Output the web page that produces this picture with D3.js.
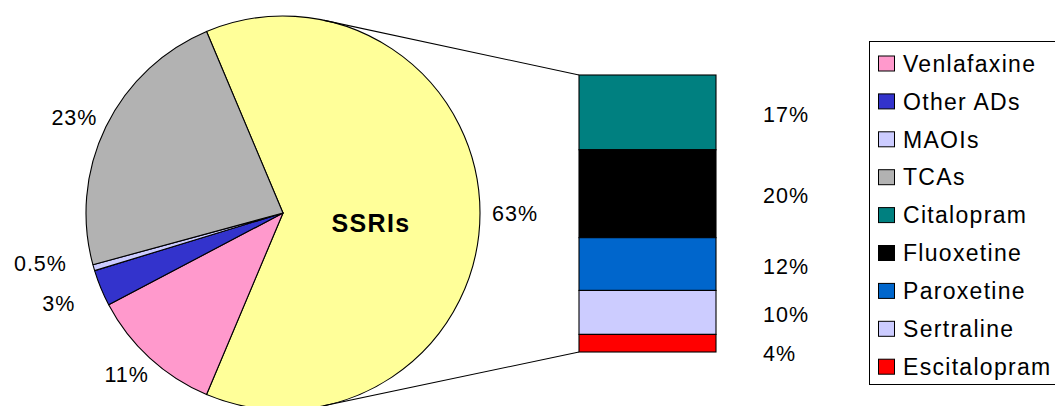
<!DOCTYPE html>
<html>
<head>
<meta charset="utf-8">
<script src="https://cdn.jsdelivr.net/npm/d3@7"></script>
<style>
  body { margin: 0; background: #fff; }
  text { font-family: Arial, "Liberation Sans", sans-serif; letter-spacing: 1.3px; }
  text.pct { letter-spacing: 1px; }
</style>
</head>
<body>
<div id="chart"></div>
<script>
// pie slices (clockwise, starting with the SSRI group)
const pieNames = ["SSRIs", "Venlafaxine", "Other ADs", "MAOIs", "TCAs"];
const pieValues = [63, 11, 3, 0.5, 23];
const pieColors = ["#FFFF99", "#FF99CC", "#3333CC", "#CCCCFF", "#B2B2B2"];

// breakdown of SSRIs (top to bottom in the bar)
const barNames = ["Citalopram", "Fluoxetine", "Paroxetine", "Sertraline", "Escitalopram"];
const barValues = [17, 20, 12, 10, 4];
const barColors = ["#008080", "#000000", "#0066CC", "#CCCCFF", "#FF0000"];

const legendNames = ["Venlafaxine", "Other ADs", "MAOIs", "TCAs"].concat(barNames);
const legendColors = ["#FF99CC", "#3333CC", "#CCCCFF", "#B2B2B2"].concat(barColors);

const width = 1055, height = 406;
const svg = d3.select("#chart").append("svg")
    .attr("width", width)
    .attr("height", height);

const cx = 283, cy = 213, r = 197;
const fs = 23, pfs = 21.5;
const total = d3.sum(pieValues);
const ssriSpan = 2 * Math.PI * pieValues[0] / total;
const start = Math.PI / 2 - ssriSpan / 2;

const pie = d3.pie().sort(null).value(d => d.v)
    .startAngle(start).endAngle(start + 2 * Math.PI);
const arcs = pie(pieNames.map((n, i) => ({ n: n, v: pieValues[i], c: pieColors[i] })));
const arc = d3.arc().innerRadius(0).outerRadius(r);

const g = svg.append("g").attr("transform", `translate(${cx},${cy})`);
g.selectAll("path.slice")
  .data(arcs)
  .enter().append("path")
    .attr("class", "slice")
    .attr("d", arc)
    .attr("fill", d => d.data.c)
    .attr("stroke", "#000")
    .attr("stroke-width", 1.1)
    .attr("stroke-linejoin", "round");

// pie labels, outside end (label box touches a ring round the pie)
const labels = arcs.map(a => {
  const mid = (a.startAngle + a.endAngle) / 2;
  const ux = Math.sin(mid), uy = -Math.cos(mid);
  const t = g.append("text")
    .attr("class", "pct")
    .attr("text-anchor", "middle")
    .attr("dy", "0.36em")
    .attr("font-size", pfs)
    .attr("fill", "#000")
    .text(a.data.v + "%");
  const w = t.node().getComputedTextLength();
  const r0 = a.data.v / total < 0.05 ? 226 : 209;
  return { t: t, x: ux * r0 + ux * w / 2, y: uy * r0 + uy * 10, left: ux < 0 };
});
// push left side labels apart, bottom to top
const leftLabels = labels.filter(l => l.left).sort((a, b) => b.y - a.y);
for (let i = 1; i < leftLabels.length; i++) {
  if (leftLabels[i].y > leftLabels[i - 1].y - 40) leftLabels[i].y = leftLabels[i - 1].y - 40;
}
labels.forEach(l => l.t.attr("x", l.x).attr("y", l.y));

g.append("text")
  .attr("x", 88)
  .attr("y", 10)
  .attr("dy", "0.36em")
  .attr("text-anchor", "middle")
  .attr("font-size", 25)
  .attr("font-weight", "bold")
  .text(pieNames[0]);

// stacked bar of SSRIs
const barX = 579, barW = 137;
const barTotal = d3.sum(barValues);
const yTop = d3.scaleLinear().domain([0, barTotal]).range([75, 352]);
let acc = 0;
const segs = barValues.map((v, i) => {
  const s = { n: barNames[i], v: v, c: barColors[i], top: acc, bot: acc + v };
  acc += v;
  return s;
});

svg.selectAll("rect.seg")
  .data(segs)
  .enter().append("rect")
    .attr("class", "seg")
    .attr("x", barX)
    .attr("y", d => yTop(d.top))
    .attr("width", barW)
    .attr("height", d => yTop(d.bot) - yTop(d.top))
    .attr("fill", d => d.c)
    .attr("stroke", "#000")
    .attr("stroke-width", 1.1);

// bar labels with simple overlap avoidance
let lastY = -Infinity;
segs.forEach(s => {
  let ly = (yTop(s.top) + yTop(s.bot)) / 2 + 2;
  if (ly < lastY + 39) ly = lastY + 39;
  lastY = ly;
  svg.append("text")
    .attr("class", "pct")
    .attr("x", 763)
    .attr("y", ly)
    .attr("dy", "0.36em")
    .attr("font-size", pfs)
    .text(s.v + "%");
});

// connector lines: tangents from bar corners to the pie
function tangent(px, py, side) {
  const dx = px - cx, dy = py - cy;
  const d = Math.hypot(dx, dy);
  const ang = Math.atan2(dy, dx) + side * Math.acos(r / d);
  return [cx + r * Math.cos(ang), cy + r * Math.sin(ang)];
}
[[yTop(0), -1], [yTop(barTotal), 1]].forEach(([py, side]) => {
  const p = tangent(barX, py, side);
  svg.append("line")
    .attr("x1", barX).attr("y1", py)
    .attr("x2", p[0]).attr("y2", p[1])
    .attr("stroke", "#000").attr("stroke-width", 1.1);
});

// legend
const lg = svg.append("g");
lg.append("rect")
  .attr("x", 869.5).attr("y", 41.5)
  .attr("width", 220).attr("height", 343)
  .attr("fill", "#fff")
  .attr("stroke", "#000")
  .attr("stroke-width", 1);

const items = lg.selectAll("g.item")
  .data(legendNames.map((n, i) => ({ n: n, c: legendColors[i] })))
  .enter().append("g")
    .attr("class", "item")
    .attr("transform", (d, i) => `translate(0,${63.5 + 37.9 * i})`);
items.append("rect")
  .attr("x", 878.5).attr("y", -7.5)
  .attr("width", 16).attr("height", 15)
  .attr("fill", d => d.c)
  .attr("stroke", "#000")
  .attr("stroke-width", 1);
items.append("text")
  .attr("x", 903)
  .attr("y", 0)
  .attr("dy", "0.36em")
  .attr("font-size", fs)
  .text(d => d.n);
</script>
</body>
</html>
